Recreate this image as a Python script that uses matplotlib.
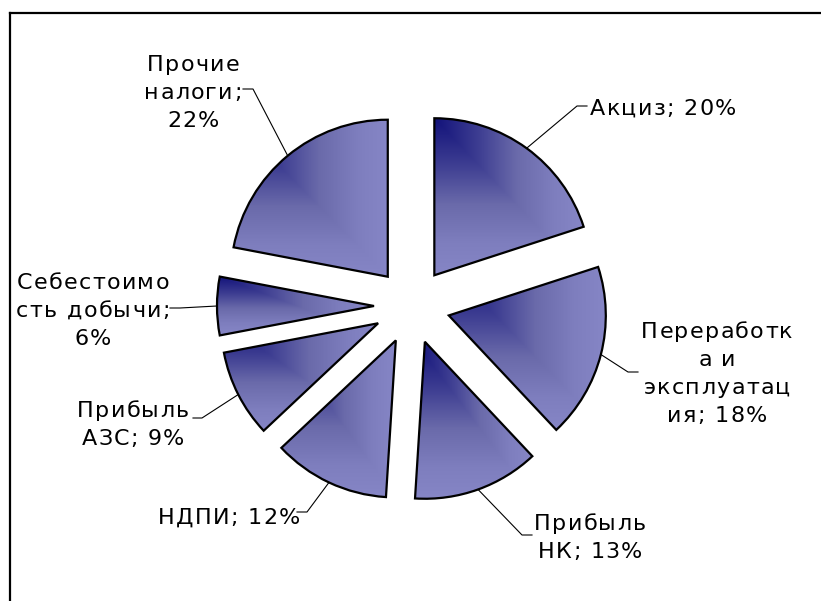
import numpy as np
import matplotlib
matplotlib.use("Agg")
import matplotlib.pyplot as plt
from matplotlib.colors import LinearSegmentedColormap
from matplotlib.lines import Line2D
from matplotlib.font_manager import FontProperties, findfont, get_font

# ---- data ----
categories = ["Акциз", "Переработка и эксплуатация", "Прибыль НК", "НДПИ",
              "Прибыль АЗС", "Себестоимость добычи", "Прочие налоги"]
values = [20, 18, 13, 12, 9, 6, 22]
label_lines = [
    ["Акциз; 20%"],
    ["Переработк", "а и", "эксплуатац", "ия; 18%"],
    ["Прибыль", "НК; 13%"],
    ["НДПИ; 12%"],
    ["Прибыль", "АЗС; 9%"],
    ["Себестоимо", "сть добычи;", "6%"],
    ["Прочие", "налоги;", "22%"],
]

# ---- layout (image pixel coords, y from top) ----
W, H = 821, 601
CX, CY, R, EXPL = 412, 306, 157, 38
# (text anchor x, first line center y, alignment), leader elbow, leader end
label_layout = [
    (590, 107, "left", (577, 106), (587, 106)),
    (717, 330, "center", (628, 372), (638, 372)),
    (590, 522, "center", (522, 535), (532, 535)),
    (229, 516, "center", (307, 512), (297, 512)),
    (133, 409, "center", (202, 418), (193, 418)),
    (93, 281, "center", (180, 308), (170, 308)),
    (193, 63, "center", (253, 89), (243, 89)),
]
LINE_PITCH = 28
FS = 16
LETTER_SP = 1.3


def P(x, y):
    return x, H - y


fig = plt.figure(figsize=(W / 100, H / 100), dpi=100)
ax = fig.add_axes([0, 0, 1, 1])

wedges, _ = ax.pie(values, startangle=90, counterclock=False,
                   center=P(CX, CY), radius=R, explode=[EXPL] * len(values),
                   wedgeprops=dict(facecolor="none", edgecolor="black",
                                   linewidth=1.6, zorder=3))
ax.set_xlim(0, W)
ax.set_ylim(0, H)
ax.set_aspect("auto")
ax.axis("off")

cmap = LinearSegmentedColormap.from_list(
    "grad", [(0.0, "#12127a"), (0.3, "#3e3e92"), (0.55, "#6a6aaa"),
             (0.8, "#7e7ebe"), (1.0, "#8686c6")])

for w in wedges:
    ext = w.get_path().get_extents(w.get_patch_transform())
    x0, y0, x1, y1 = ext.x0, ext.y0, ext.x1, ext.y1
    n = 300
    u = np.linspace(0, 1, n)[None, :].repeat(n, 0)
    v = np.linspace(0, 1, n)[:, None].repeat(n, 1)
    t = np.maximum(u, v)
    im = ax.imshow(t, cmap=cmap, vmin=0, vmax=1, origin="upper",
                   extent=(x0, x1, y0, y1), interpolation="bilinear", zorder=2)
    im.set_clip_path(w)
ax.set_xlim(0, W)
ax.set_ylim(0, H)
ax.set_aspect("auto")

# leader lines
theta1 = 90.0
for w, (tx, ty, ha, elbow, end) in zip(wedges, label_layout):
    tm = np.deg2rad(0.5 * (w.theta1 + w.theta2))
    sx = w.center[0] + R * np.cos(tm)
    sy = w.center[1] + R * np.sin(tm)
    ex, ey = P(*elbow)
    fx, fy = P(*end)
    ax.plot([sx, ex, fx], [sy, ey, fy], color="black", lw=0.8, zorder=4)

# labels with letter spacing
fp = FontProperties(family="DejaVu Sans", size=FS)
font = get_font(findfont(fp))
font.set_size(FS, 72)


def adv(ch):
    g = font.load_char(ord(ch))
    return g.linearHoriAdvance / 65536 * 100 / 72


def draw_line(s, x, ycenter, ha):
    widths = [adv(c) for c in s]
    total = sum(widths) + LETTER_SP * (len(s) - 1)
    if ha == "center":
        xs = x - total / 2
    else:
        xs = x
    base = ycenter + 8
    for c, wd in zip(s, widths):
        if c != " ":
            ax.text(*P(xs, base), c, fontproperties=fp, ha="left",
                    va="baseline", color="black", zorder=5)
        xs += wd + LETTER_SP


for lines, (tx, ty, ha, elbow, end) in zip(label_lines, label_layout):
    for i, s in enumerate(lines):
        draw_line(s, tx, ty + i * LINE_PITCH, ha)

# chart area border (left and top visible)
fig.add_artist(Line2D([9.5 / W, 9.5 / W], [0, 1 - 12.5 / H], color="black",
                      lw=1.6, transform=fig.transFigure))
fig.add_artist(Line2D([9.5 / W, 1], [1 - 12.5 / H, 1 - 12.5 / H],
                      color="black", lw=1.6, transform=fig.transFigure))

fig.savefig("out.png", dpi=100, facecolor="white")
